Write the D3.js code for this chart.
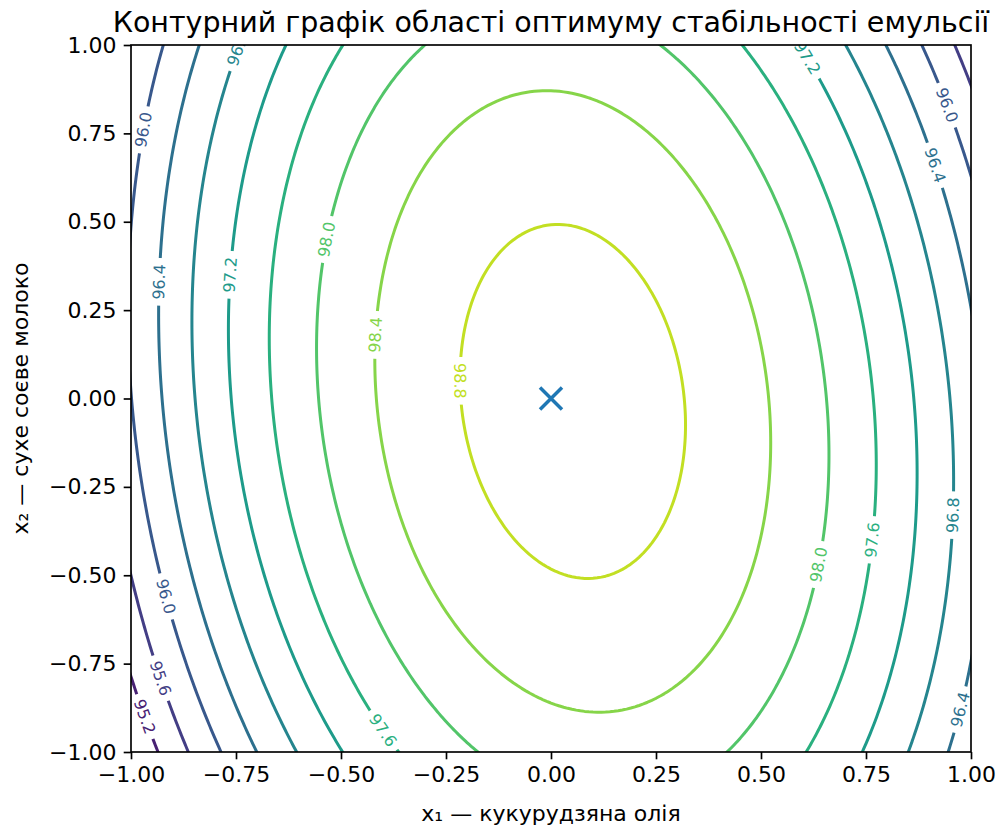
<!DOCTYPE html>
<html>
<head>
<meta charset="utf-8">
<script src="https://cdn.jsdelivr.net/npm/d3@7"></script>
<style>
  body { margin: 0; background: #fff; }
  text { font-family: "DejaVu Sans", sans-serif; }
</style>
</head>
<body>
<div id="chart"></div>
<script>
// Fitted response surface y = b0 + b1*x1 + b2*x2 + b11*x1^2 + b22*x2^2 + b12*x1*x2
// (coefficients estimated from where the contours cross the frame)
const coefNames = ["b0", "b1", "b2", "b11", "b22", "b12"];
const coefValues = [98.985, 0.278, 0.007, -2.714, -0.780, -0.387];

// contour levels and the range the colour map is stretched over
const levels = [95.2, 95.6, 96.0, 96.4, 96.8, 97.2, 97.6, 98.0, 98.4, 98.8];
const colorRange = [94.8, 99.2];

const xTicks = [-1.00, -0.75, -0.50, -0.25, 0.00, 0.25, 0.50, 0.75, 1.00];
const yTicks = [-1.00, -0.75, -0.50, -0.25, 0.00, 0.25, 0.50, 0.75, 1.00];

// inline contour labels: level and the point (x1, x2) where it sits
const labelLevels = [96.0, 96.8, 97.2, 96.0, 96.4, 96.4, 97.2, 98.0, 98.4, 98.8, 96.0, 95.6, 95.2, 97.6, 98.0, 97.6, 96.8, 96.4];
const labelX1 = [-0.969, -0.748, 0.612, 0.948, 0.930, -0.943, -0.769, -0.540, -0.429, -0.217, -0.912, -0.924, -0.962, -0.395, 0.640, 0.767, 0.957, 0.967];
const labelX2 = [0.760, 0.993, 0.964, 0.834, 0.661, 0.327, 0.350, 0.449, 0.177, 0.052, -0.556, -0.791, -0.902, -0.933, -0.466, -0.401, -0.330, -0.876];

const optimum = [0, 0];

const title = "Контурний графік області оптимуму стабільності емульсії";
const xLabel = "x\u2081 — кукурудзяна олія";
const yLabel = "x\u2082 — сухе соєве молоко";

// ---- layout
const W = 1001, H = 828;
const plot = { left: 131, right: 971, top: 45, bottom: 752 };

const svg = d3.select("#chart").append("svg")
    .attr("width", W)
    .attr("height", H);

const x = d3.scaleLinear().domain([-1, 1]).range([plot.left, plot.right]);
const y = d3.scaleLinear().domain([-1, 1]).range([plot.bottom, plot.top]);
const color = d3.scaleSequential(d3.interpolateViridis).domain(colorRange);

// ---- sample the surface on a grid a little larger than the frame
const coef = Object.fromEntries(coefNames.map((k, i) => [k, coefValues[i]]));
const g0 = -1.1, step = 0.01, n = 221;
const values = new Array(n * n);
for (let j = 0; j < n; j++) {
    for (let i = 0; i < n; i++) {
        const a = g0 + i * step, b = g0 + j * step;
        values[j * n + i] = coef.b0 + coef.b1 * a + coef.b2 * b +
            coef.b11 * a * a + coef.b22 * b * b + coef.b12 * a * b;
    }
}

const contours = d3.contours().size([n, n]).thresholds(levels)(values);

// grid units -> pixels
const gx = v => x(g0 + (v - 0.5) * step);
const gy = v => y(g0 + (v - 0.5) * step);
const path = d3.geoPath(d3.geoTransform({
    point: function(px, py) { this.stream.point(gx(px), gy(py)); }
}));

const defs = svg.append("defs");
defs.append("clipPath").attr("id", "plotClip")
    .append("rect")
    .attr("x", plot.left).attr("y", plot.top)
    .attr("width", plot.right - plot.left)
    .attr("height", plot.bottom - plot.top);

const plotArea = svg.append("g").attr("clip-path", "url(#plotClip)");
const lineLayer = plotArea.append("g");
const labelLayer = plotArea.append("g");

// ---- labels: snap to the contour, rotate along it
function ringsInPixels(c) {
    const rings = [];
    c.coordinates.forEach(poly => poly.forEach(ring => {
        rings.push(ring.map(p => [gx(p[0]), gy(p[1])]));
    }));
    return rings;
}

const labelsByLevel = levels.map(() => []);

labelLevels.forEach((lv, k) => {
    const li = levels.findIndex(l => Math.abs(l - lv) < 1e-6);
    const rings = ringsInPixels(contours[li]);
    const ax = x(labelX1[k]), ay = y(labelX2[k]);

    let best = null;
    rings.forEach(ring => ring.forEach((p, idx) => {
        const d = (p[0] - ax) ** 2 + (p[1] - ay) ** 2;
        if (!best || d < best.d) best = { d, ring, idx };
    }));

    const ring = best.ring, m = ring.length - 1;
    const c = ring[best.idx];
    const walk = dir => {
        let k2 = best.idx;
        for (let s = 0; s < m; s++) {
            k2 = ((k2 + dir) % m + m) % m;
            const p = ring[k2];
            if (Math.hypot(p[0] - c[0], p[1] - c[1]) >= 10) return p;
        }
        return ring[k2];
    };
    const pa = walk(-1), pb = walk(1);
    let ang = Math.atan2(pb[1] - pa[1], pb[0] - pa[0]) * 180 / Math.PI;
    // keep text upright the way matplotlib does
    let mpl = -ang;
    mpl = ((mpl + 90) % 180 + 180) % 180 - 90;
    ang = -mpl;

    const t = labelLayer.append("text")
        .attr("transform", `translate(${c[0]},${c[1]}) rotate(${ang})`)
        .attr("text-anchor", "middle")
        .attr("dominant-baseline", "central")
        .style("font-size", "16px")
        .style("fill", color(lv))
        .text(lv.toFixed(1));

    labelsByLevel[li].push({ cx: c[0], cy: c[1], ang, w: t.node().getComputedTextLength() });
});

// ---- contour lines, each with gaps cut for its labels
contours.forEach((c, i) => {
    const mask = defs.append("mask")
        .attr("id", `gap${i}`)
        .attr("maskUnits", "userSpaceOnUse")
        .attr("x", 0).attr("y", 0).attr("width", W).attr("height", H);
    mask.append("rect").attr("width", W).attr("height", H).attr("fill", "#fff");
    labelsByLevel[i].forEach(l => {
        mask.append("rect")
            .attr("transform", `translate(${l.cx},${l.cy}) rotate(${l.ang})`)
            .attr("x", -(l.w + 12) / 2).attr("y", -9)
            .attr("width", l.w + 12).attr("height", 18)
            .attr("fill", "#000");
    });

    lineLayer.append("path")
        .attr("d", path(c))
        .attr("fill", "none")
        .attr("stroke", color(c.value))
        .attr("stroke-width", 3)
        .attr("stroke-linejoin", "round")
        .attr("mask", `url(#gap${i})`);
});

// ---- optimum marker
svg.append("path")
    .attr("transform", `translate(${x(optimum[0])},${y(optimum[1])})`)
    .attr("d", "M-11,-11L11,11M-11,11L11,-11")
    .attr("stroke", "#1f77b4")
    .attr("stroke-width", 3.5)
    .attr("fill", "none");

// ---- axes
const fmt = d3.format(".2f");

const xAxis = svg.append("g")
    .attr("transform", `translate(0,${plot.bottom})`)
    .call(d3.axisBottom(x).tickValues(xTicks).tickFormat(fmt)
        .tickSize(7.3).tickSizeOuter(0).tickPadding(7.3));

const yAxis = svg.append("g")
    .attr("transform", `translate(${plot.left},0)`)
    .call(d3.axisLeft(y).tickValues(yTicks).tickFormat(fmt)
        .tickSize(7.3).tickSizeOuter(0).tickPadding(7.3));

[xAxis, yAxis].forEach(a => {
    a.select(".domain").remove();
    a.selectAll(".tick line").attr("stroke", "#000").attr("stroke-width", 1.67);
    a.selectAll(".tick text")
        .style("font-family", "'DejaVu Sans', sans-serif")
        .style("font-size", "22px")
        .attr("fill", "#000");
});

svg.append("rect")
    .attr("x", plot.left).attr("y", plot.top)
    .attr("width", plot.right - plot.left)
    .attr("height", plot.bottom - plot.top)
    .attr("fill", "none")
    .attr("stroke", "#000")
    .attr("stroke-width", 1.67);

// ---- titles
svg.append("text")
    .attr("x", (plot.left + plot.right) / 2)
    .attr("y", 32)
    .attr("text-anchor", "middle")
    .style("font-size", "28.5px")
    .text(title);

svg.append("text")
    .attr("x", (plot.left + plot.right) / 2)
    .attr("y", 821)
    .attr("text-anchor", "middle")
    .style("font-size", "22px")
    .text(xLabel);

svg.append("text")
    .attr("transform", `translate(28,${(plot.top + plot.bottom) / 2}) rotate(-90)`)
    .attr("text-anchor", "middle")
    .style("font-size", "22px")
    .text(yLabel);
</script>
</body>
</html>
